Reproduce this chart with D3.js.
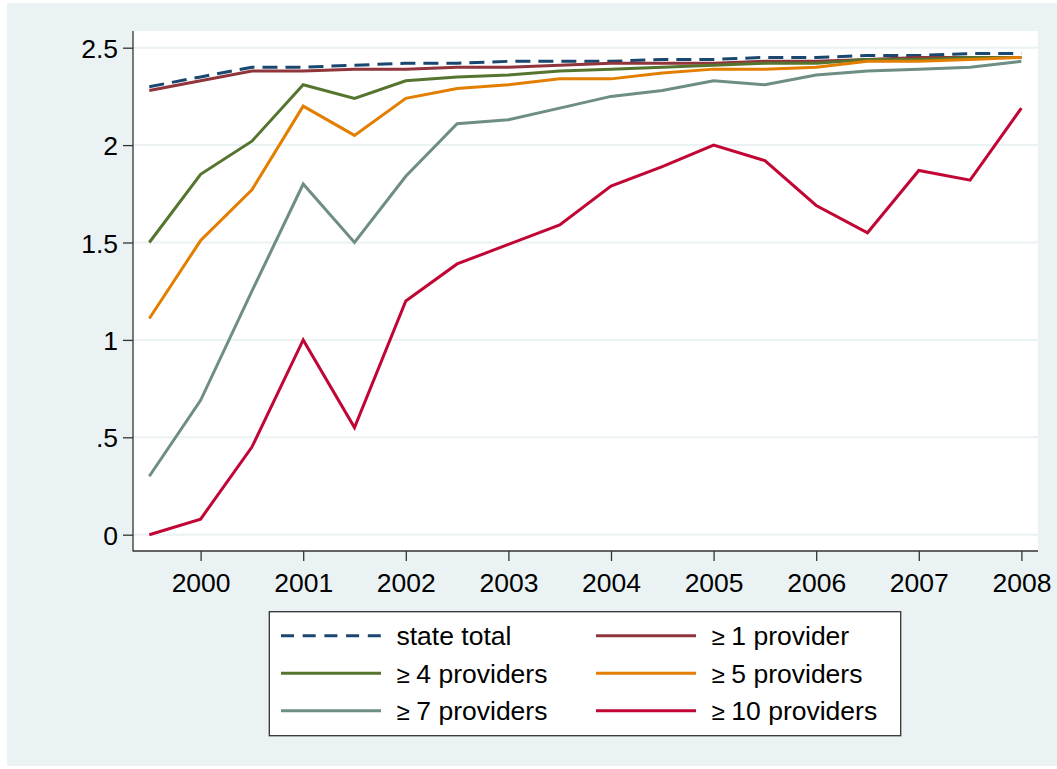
<!DOCTYPE html>
<html>
<head>
<meta charset="utf-8">
<script src="https://cdn.jsdelivr.net/npm/d3@7"></script>
<style>
  html, body { margin: 0; padding: 0; background: #fff; }
  #chart { width: 1057px; height: 769px; }
  text { font-family: 'Liberation Sans', Arial, sans-serif; fill: #000; }
</style>
</head>
<body>
<div id="chart"></div>
<script>
// half-year periods, 1999.5 .. 2008
const periods = [1999.5, 2000, 2000.5, 2001, 2001.5, 2002, 2002.5, 2003, 2003.5,
  2004, 2004.5, 2005, 2005.5, 2006, 2006.5, 2007, 2007.5, 2008];

const stateTotal = [2.30, 2.35, 2.40, 2.40, 2.41, 2.42, 2.42, 2.43, 2.43,
  2.43, 2.44, 2.44, 2.45, 2.45, 2.46, 2.46, 2.47, 2.47];
const atLeast1 = [2.28, 2.33, 2.38, 2.38, 2.39, 2.39, 2.40, 2.40, 2.41,
  2.42, 2.42, 2.42, 2.43, 2.43, 2.44, 2.45, 2.45, 2.45];
const atLeast4 = [1.50, 1.85, 2.02, 2.31, 2.24, 2.33, 2.35, 2.36, 2.38,
  2.39, 2.40, 2.41, 2.42, 2.42, 2.44, 2.44, 2.45, 2.45];
const atLeast5 = [1.11, 1.51, 1.77, 2.20, 2.05, 2.24, 2.29, 2.31, 2.34,
  2.34, 2.37, 2.39, 2.39, 2.40, 2.43, 2.43, 2.44, 2.45];
const atLeast7 = [0.30, 0.69, 1.25, 1.80, 1.50, 1.84, 2.11, 2.13, 2.19,
  2.25, 2.28, 2.33, 2.31, 2.36, 2.38, 2.39, 2.40, 2.43];
const atLeast10 = [0.00, 0.08, 0.45, 1.00, 0.55, 1.20, 1.39, 1.49, 1.59,
  1.79, 1.89, 2.00, 1.92, 1.69, 1.55, 1.87, 1.82, 2.19];

const seriesLabels = ['state total', '1 provider', '4 providers', '5 providers', '7 providers', '10 providers'];
const seriesGe = [false, true, true, true, true, true];

const yTicks = [0, 0.5, 1, 1.5, 2, 2.5];
const yTickLabels = ['0', '.5', '1', '1.5', '2', '2.5'];
const xTicks = [2000, 2001, 2002, 2003, 2004, 2005, 2006, 2007, 2008];

// stata s2color
const colors = ['#1a476f', '#90353b', '#55752f', '#e37e00', '#6e8e84', '#c10534'];

class LineChart {
  constructor(node) {
    this.container = d3.select(node);
    this.setupVar();
    this.setupUtils();
    this.setupDOM();
  }

  setupVar() {
    this.width = 1057;
    this.height = 769;
    this.plot = { left: 133, top: 31, right: 1038, bottom: 551 };
    this.fontSize = 26.5;
  }

  setupUtils() {
    // 1999.5 -> 149.3, 2008 -> 1021.4
    this.x = d3.scaleLinear().domain([1999.5, 2008]).range([149.3, 1021.4]);
    this.y = d3.scaleLinear().domain([0, 2.5]).range([534.7, 47.7]);
  }

  setupDOM() {
    this.svg = this.container.append('svg')
      .attr('width', this.width)
      .attr('height', this.height);

    this.svg.append('rect')
      .attr('x', 7).attr('y', 3)
      .attr('width', 1050).attr('height', 763)
      .attr('fill', '#eaf2f3');

    const p = this.plot;
    this.svg.append('rect')
      .attr('x', p.left).attr('y', p.top)
      .attr('width', p.right - p.left).attr('height', p.bottom - p.top)
      .attr('fill', '#fff');
  }

  drawGraph(series) {
    const p = this.plot;

    // gridlines
    this.svg.append('g').selectAll('line')
      .data(yTicks)
      .enter().append('line')
      .attr('x1', p.left).attr('x2', p.right)
      .attr('y1', (d) => this.y(d)).attr('y2', (d) => this.y(d))
      .attr('stroke', '#eaf2f3')
      .attr('stroke-width', 2);

    // y axis
    const yAxis = d3.axisLeft(this.y)
      .tickValues(yTicks)
      .tickSize(10)
      .tickPadding(5)
      .tickFormat((d, i) => yTickLabels[i]);
    const gy = this.svg.append('g')
      .attr('transform', `translate(${p.left},0)`)
      .call(yAxis);
    gy.select('.domain').remove();
    gy.selectAll('.tick line').attr('stroke', '#333').attr('stroke-width', 1.3);
    gy.selectAll('.tick text')
      .attr('font-size', this.fontSize)
      .attr('font-family', "'Liberation Sans', Arial, sans-serif")
      .attr('fill', '#000')
      .attr('dy', '0.36em');

    // x axis
    const xAxis = d3.axisBottom(this.x)
      .tickValues(xTicks)
      .tickSize(10)
      .tickPadding(12)
      .tickFormat(d3.format('d'));
    const gx = this.svg.append('g')
      .attr('transform', `translate(0,${p.bottom})`)
      .call(xAxis);
    gx.select('.domain').remove();
    gx.selectAll('.tick line').attr('stroke', '#333').attr('stroke-width', 1.3);
    gx.selectAll('.tick text')
      .attr('font-size', this.fontSize)
      .attr('font-family', "'Liberation Sans', Arial, sans-serif")
      .attr('fill', '#000');

    // axis lines
    this.svg.append('line')
      .attr('x1', p.left).attr('x2', p.left)
      .attr('y1', p.top).attr('y2', p.bottom + 0.6)
      .attr('stroke', '#333').attr('stroke-width', 1.3);
    this.svg.append('line')
      .attr('x1', p.left).attr('x2', p.right)
      .attr('y1', p.bottom).attr('y2', p.bottom)
      .attr('stroke', '#333').attr('stroke-width', 1.3);

    const line = d3.line()
      .x((d, i) => this.x(periods[i]))
      .y((d) => this.y(d));

    this.svg.append('g').selectAll('path.series')
      .data(series)
      .enter().append('path')
      .attr('class', 'series')
      .attr('d', (d) => line(d))
      .attr('fill', 'none')
      .attr('stroke', (d, i) => colors[i])
      .attr('stroke-width', 3)
      .attr('stroke-linejoin', 'miter')
      .attr('stroke-dasharray', (d, i) => (i === 0 ? '15,8' : null));

    this.drawLegend();
  }

  drawLegend() {
    const box = { x: 269.3, y: 611.7, w: 631.4, h: 124 };
    this.svg.append('rect')
      .attr('x', box.x).attr('y', box.y)
      .attr('width', box.w).attr('height', box.h)
      .attr('fill', '#fff')
      .attr('stroke', '#333')
      .attr('stroke-width', 1.3);

    const colX = [281, 596];
    const rowY = [635.7, 673.3, 710.7];

    const item = this.svg.append('g').selectAll('g.legend-item')
      .data(seriesLabels)
      .enter().append('g')
      .attr('class', 'legend-item')
      .attr('transform', (d, i) => `translate(${colX[i % 2]},${rowY[Math.floor(i / 2)]})`);

    item.append('line')
      .attr('x1', 0).attr('x2', 100)
      .attr('y1', 0).attr('y2', 0)
      .attr('stroke', (d, i) => colors[i])
      .attr('stroke-width', 3)
      .attr('stroke-dasharray', (d, i) => (i === 0 ? '13,8.7' : null));

    const txt = item.append('text')
      .attr('x', 115.5)
      .attr('y', 9.5)
      .attr('font-size', this.fontSize);
    txt.filter((d, i) => seriesGe[i]).append('tspan')
      .attr('font-size', 24)
      .text('\u2265 ');
    txt.append('tspan').text((d) => d);
  }
}

const chart = new LineChart(document.getElementById('chart'));
chart.drawGraph([stateTotal, atLeast1, atLeast4, atLeast5, atLeast7, atLeast10]);
</script>
</body>
</html>
